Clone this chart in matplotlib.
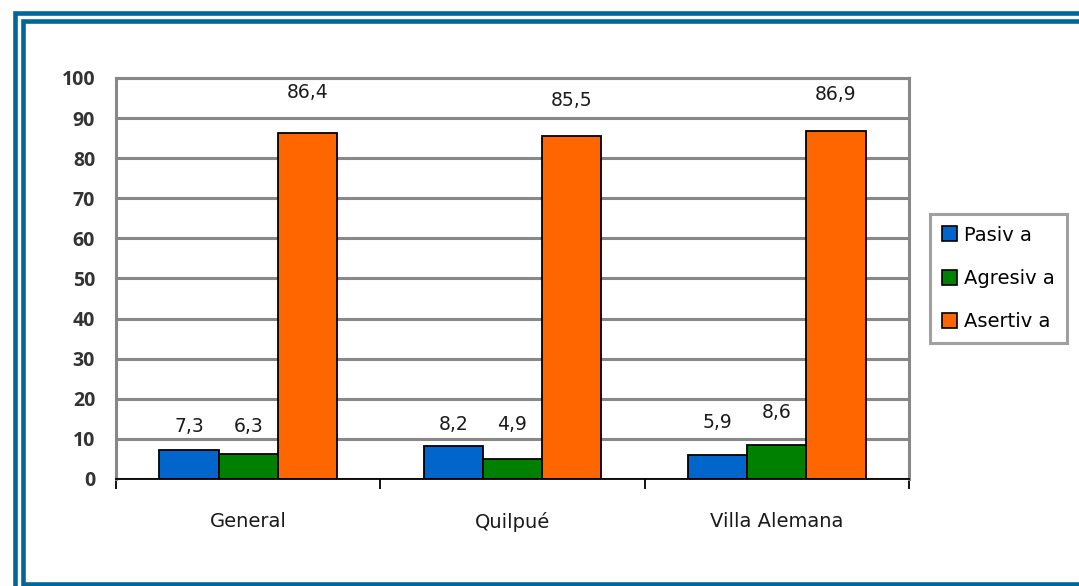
import matplotlib.pyplot as plt
from matplotlib.lines import Line2D
from matplotlib.patches import Patch
import numpy as np

comunas = ["General", "Quilpué", "Villa Alemana"]
series = ["Pasiv a", "Agresiv a", "Asertiv a"]
pasiva = [7.3, 8.2, 5.9]
agresiva = [6.3, 4.9, 8.6]
asertiva = [86.4, 85.5, 86.9]
yticks = [0, 10, 20, 30, 40, 50, 60, 70, 80, 90, 100]

colors = ["#0066CC", "#008000", "#FF6600"]
# label heights above each bar (in data units), as placed in the original chart
label_lift = [[5.7, 5.3, 8.3], [6.7, 8.6, 8.1], [9.9, 9.0, 9.1]]

fig = plt.figure(figsize=(10.79, 5.86), dpi=100)
ax = fig.add_axes([0.1075, 0.1826, 0.7349, 0.6843])

x = np.arange(len(comunas))
w = 0.224
values = [pasiva, agresiva, asertiva]
for i, vals in enumerate(values):
    pos = x + (i - 1) * w
    ax.bar(pos, vals, w, color=colors[i], edgecolor="black", linewidth=1.3, zorder=3)
    for j, v in enumerate(vals):
        ax.text(pos[j], v + label_lift[i][j], f"{v:.1f}".replace(".", ","),
                ha="center", va="center", fontsize=13.5, color="#1a1a1a",
                family="DejaVu Sans")

ax.set_xlim(-0.5, 2.5)
ax.set_ylim(0, 100)
ax.set_yticks(yticks)
ax.set_yticklabels([str(t) for t in yticks], fontsize=14, fontweight="bold",
                   color="#333333", family="Open Sans")
ax.tick_params(axis="y", length=0, pad=15)
ax.yaxis.grid(True, color="#888888", linewidth=2.2, zorder=0)
ax.set_axisbelow(True)

ax.set_xticks(x)
ax.set_xticklabels(comunas, fontsize=14, color="#1a1a1a", family="DejaVu Sans")
ax.set_xticks([-0.5, 0.5, 1.5, 2.5], minor=True)
ax.tick_params(axis="x", which="major", length=0, pad=24)
ax.tick_params(axis="x", which="minor", length=7, width=1.3, color="black", direction="out")

for s in ["top", "left", "right"]:
    ax.spines[s].set_color("#888888")
    ax.spines[s].set_linewidth(2.2)
ax.spines["bottom"].set_color("black")
ax.spines["bottom"].set_linewidth(1.3)
ax.spines["bottom"].set_zorder(4)

handles = [Patch(facecolor=c, edgecolor="black", linewidth=1.2) for c in colors]
leg = fig.legend(handles, series, loc="upper left", bbox_to_anchor=(0.862, 0.635),
                 frameon=True, fancybox=False, fontsize=14, handlelength=0.8,
                 handleheight=0.8, handletextpad=0.35, labelspacing=1.25,
                 borderpad=0.6, borderaxespad=0)
leg.get_frame().set_edgecolor("#888888")
leg.get_frame().set_linewidth(2.2)

# double blue frame around the picture (cut off on the right and bottom)
W, H = 1079, 586
blue = "#006699"
def frame(x0, y0, x1, y1):
    xs = [x1 / W, x0 / W, x0 / W, x1 / W, x1 / W]
    ys = [1 - y0 / H, 1 - y0 / H, 1 - y1 / H, 1 - y1 / H, 1 - y0 / H]
    fig.add_artist(Line2D(xs, ys, color=blue, linewidth=3.3,
                          solid_joinstyle="miter", transform=fig.transFigure))
frame(15.5, 13, 1100, 610)
frame(23.3, 21, 1090, 584.3)

fig.savefig("out.png", dpi=100)
